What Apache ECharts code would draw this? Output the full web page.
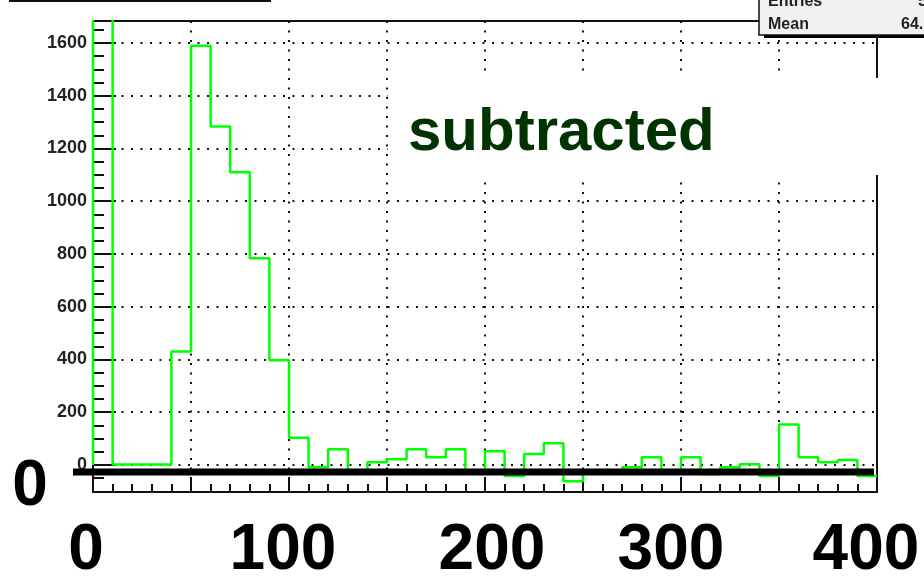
<!DOCTYPE html>
<html><head><meta charset="utf-8">
<script src="https://cdn.jsdelivr.net/npm/echarts@6/dist/echarts.min.js"></script>
<style>html,body{margin:0;padding:0;background:#fff}#c{width:924px;height:584px}</style>
</head><body><div id="c"></div>
<script>
// ---- data ----
const binLeftEdges = [0,10,20,30,40,50,60,70,80,90,100,110,120,130,140,150,160,170,180,190,
                      200,210,220,230,240,250,260,270,280,290,300,310,320,330,340,350,360,370,380,390];
const binWidth = 10;
const counts = [1800,2,2,2,430,1590,1283,1110,784,397,103,-9,60,-25,10,22,60,29,60,-20,
                52,-42,42,82,-62,-20,-20,-9,29,-20,29,-35,-9,3,-42,154,29,10,19,-42];
const yMajorTicks = [0,200,400,600,800,1000,1200,1400,1600];
const yMinorTicks = [-50,50,100,150,250,300,350,450,500,550,650,700,750,850,900,950,1050,1100,1150,
                     1250,1300,1350,1450,1500,1550,1650];
const xMajorTicks = [0,50,100,150,200,250,300,350,400];
const xMinorTicks = [10,20,30,40,60,70,80,90,110,120,130,140,160,170,180,190,210,220,230,240,
                     260,270,280,290,310,320,330,340,360,370,380,390];
const xBigLabels = [0,100,200,300,400];
const yBigLabel = '0';
const annotation = 'subtracted';
const statsNames = ['Entries','Mean'];
const statsValues = ['5','64.5'];
const xRange = [0,400];
const yRange = [-102.4,1683.4];

// ---- build ----
const pts = [[binLeftEdges[0],0]];
binLeftEdges.forEach((e,i)=>pts.push([e,counts[i]]));
pts.push([binLeftEdges[binLeftEdges.length-1]+binWidth, counts[counts.length-1]]);

const FONT = '"Liberation Sans", Arial, Helvetica, sans-serif';
const gridRect = {left:93, right:47, top:21, bottom:92, containLabel:false, outerBoundsMode:'none'};
const dots = {color:'#111', width:2, type:[2,7.5]};
const labelPad = {0:[0,14,0,0],100:[0,12,0,0],200:[0,0,0,14],300:[0,20,0,0],400:[0,22,0,0]};
const rich = {};
xBigLabels.forEach(v=>{rich['l'+v]={fontSize:64,fontWeight:'bold',fontFamily:FONT,color:'#000',padding:labelPad[v],lineHeight:64};});

const chart = echarts.init(document.getElementById('c'), null, {renderer:'canvas'});
chart.setOption({
  animation:false,
  backgroundColor:'#fff',
  grid:[
    Object.assign({show:true, borderColor:'#111', borderWidth:2, backgroundColor:'transparent'}, gridRect),
    Object.assign({show:false}, gridRect)
  ],
  xAxis:[
    {type:'value', gridIndex:0, min:xRange[0], max:xRange[1],
     axisLine:{show:true, onZero:false, lineStyle:{color:'#111', width:2}},
     axisTick:{show:true, inside:true, length:15, customValues:xMajorTicks, lineStyle:{color:'#111', width:2}},
     axisLabel:{show:true, customValues:xBigLabels, margin:27, fontSize:64, fontWeight:'bold', fontFamily:FONT, color:'#000',
                hideOverlap:false, formatter:v=>'{l'+v+'|'+v+'}', rich:rich},
     splitLine:{show:true, lineStyle:dots}},
    {type:'value', gridIndex:1, min:xRange[0], max:xRange[1],
     axisLine:{show:false, onZero:false},
     axisTick:{show:true, inside:true, length:8, customValues:xMinorTicks, lineStyle:{color:'#111', width:2}},
     axisLabel:{show:false}, splitLine:{show:false}}
  ],
  yAxis:[
    {type:'value', gridIndex:0, min:yRange[0], max:yRange[1],
     axisLine:{show:true, onZero:false, lineStyle:{color:'#111', width:2}},
     axisTick:{show:true, inside:true, length:23, customValues:yMajorTicks, lineStyle:{color:'#111', width:2}},
     axisLabel:{show:true, customValues:yMajorTicks, margin:6, fontSize:18, fontWeight:'bold', fontFamily:FONT, color:'#222',
                formatter:v=>String(v)},
     splitLine:{show:true, lineStyle:dots}},
    {type:'value', gridIndex:1, min:yRange[0], max:yRange[1],
     axisLine:{show:false, onZero:false},
     axisTick:{show:true, inside:true, length:11, customValues:yMinorTicks, lineStyle:{color:'#111', width:2}},
     axisLabel:{show:false}, splitLine:{show:false}}
  ],
  series:[{
    type:'line', xAxisIndex:0, yAxisIndex:0, data:pts, step:'end', showSymbol:false, symbol:'none',
    lineStyle:{color:'#00ff00', width:2.5}, clip:true, z:3
  }],
  graphic:[
    {type:'rect', shape:{x:10, y:-10, width:260, height:11}, style:{fill:'#fff', stroke:'#111', lineWidth:2}, z:100},
    {type:'rect', shape:{x:764, y:-5, width:170, height:43}, style:{fill:'#000'}, z:100},
    {type:'rect', shape:{x:759, y:-5, width:170, height:40}, style:{fill:'#f0f0f0', stroke:'#111', lineWidth:1.5}, z:101},
    {type:'text', x:768, y:-6, style:{text:statsNames[0], font:'bold 16px '+FONT, fill:'#222'}, z:102},
    {type:'text', x:768, y:17, style:{text:statsNames[1], font:'bold 16px '+FONT, fill:'#222'}, z:102},
    {type:'text', x:918, y:-6, style:{text:statsValues[0], font:'bold 16px '+FONT, fill:'#222'}, z:102},
    {type:'text', x:901, y:17, style:{text:statsValues[1], font:'bold 16px '+FONT, fill:'#222'}, z:102},
    {type:'rect', shape:{x:388, y:78, width:540, height:97}, style:{fill:'#fff'}, z:100},
    {type:'text', x:408, y:103, style:{text:annotation, font:'bold 60px '+FONT, fill:'#003300'}, z:102},
    {type:'line', shape:{x1:73, y1:472, x2:874, y2:472}, style:{stroke:'#000', lineWidth:7}, z:100},
    {type:'text', x:30, y:455, style:{text:yBigLabel, font:'bold 64px '+FONT, fill:'#000', align:'center'}, z:102}
  ]
});
</script>
</body></html>
